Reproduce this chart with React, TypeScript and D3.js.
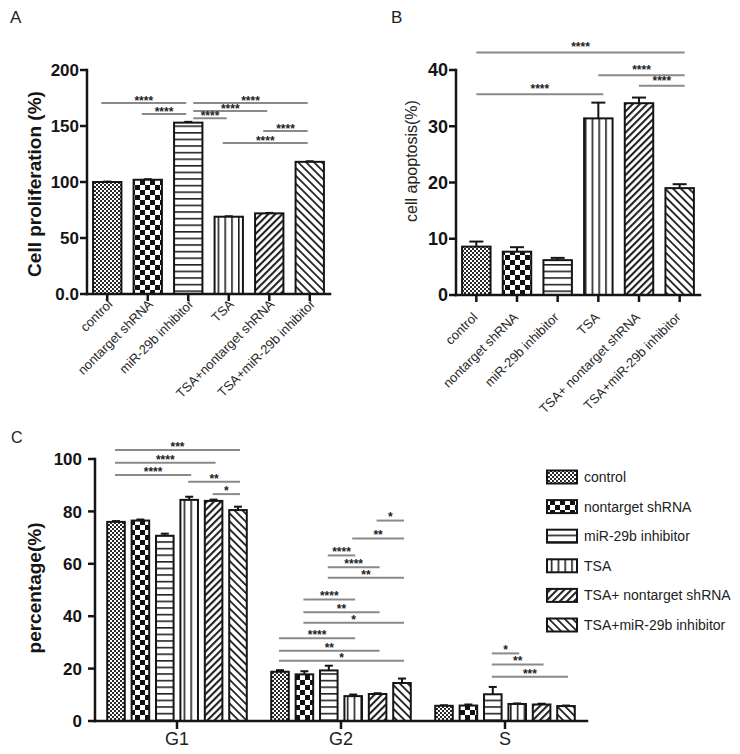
import React from "react";
import * as d3 from "d3";

// ---------------- data ----------------
const groups = ["control", "nontarget shRNA", "miR-29b inhibitor", "TSA", "TSA+nontarget shRNA", "TSA+miR-29b inhibitor"];
const labelsA = ["control", "nontarget shRNA", "miR-29b inhibitor", "TSA", "TSA+nontarget shRNA", "TSA+miR-29b inhibitor"];
const labelsB = ["control", "nontarget shRNA", "miR-29b inhibitor", "TSA", "TSA+ nontarget shRNA", "TSA+miR-29b inhibitor"];
const legendLabels = ["control", "nontarget shRNA", "miR-29b inhibitor", "TSA", "TSA+ nontarget shRNA", "TSA+miR-29b inhibitor"];

const proliferation = [100, 102, 153, 69, 72, 118];
const proliferationErr = [0.4, 0.5, 0.7, 0.4, 0.4, 0.5];
const apoptosis = [8.6, 7.7, 6.2, 31.4, 34.1, 19.0];
const apoptosisErr = [0.9, 0.8, 0.4, 2.8, 1.0, 0.7];

const phases = ["G1", "G2", "S"];
const cycleG1 = [76.0, 76.5, 70.7, 84.4, 84.0, 80.5];
const cycleG1Err = [0.3, 0.4, 0.8, 1.2, 0.5, 1.3];
const cycleG2 = [18.8, 17.8, 19.3, 9.5, 10.3, 14.5];
const cycleG2Err = [0.6, 1.2, 1.8, 0.6, 0.3, 1.7];
const cycleS = [5.8, 5.9, 10.2, 6.5, 6.3, 5.7];
const cycleSErr = [0.2, 0.4, 2.8, 0.2, 0.3, 0.2];

const ticksA = [0, 50, 100, 150, 200];
const tickLabelsA = ["0.0", "50", "100", "150", "200"];
const ticksB = [0, 10, 20, 30, 40];
const tickLabelsB = ["0", "10", "20", "30", "40"];
const ticksC = [0, 20, 40, 60, 80, 100];
const tickLabelsC = ["0", "20", "40", "60", "80", "100"];

// comparisons: [fromIndex, toIndex, yValue, stars]
const sigA: [number, number, number, string][] = [
  [0, 2, 170.5, "****"],
  [1, 2, 160.7, "****"],
  [2, 5, 170.5, "****"],
  [2, 4, 163.4, "****"],
  [2, 3, 157, "****"],
  [4, 5, 145.5, "****"],
  [3, 5, 134.8, "****"],
];
const sigB: [number, number, number, string][] = [
  [0, 5, 43.1, "****"],
  [0, 3, 35.7, "****"],
  [3, 5, 39.05, "****"],
  [4, 5, 37.2, "****"],
];
const sigG1: [number, number, number, string][] = [
  [0, 5, 103.4, "***"],
  [0, 4, 98.6, "****"],
  [0, 3, 93.9, "****"],
  [3, 5, 91.3, "**"],
  [4, 5, 86.6, "*"],
];
const sigG2: [number, number, number, string][] = [
  [4, 5, 76.5, "*"],
  [3, 5, 69.7, "**"],
  [2, 3, 63.2, "****"],
  [2, 4, 58.7, "****"],
  [2, 5, 54.7, "**"],
  [1, 3, 46.4, "****"],
  [1, 4, 41.5, "**"],
  [1, 5, 37.5, "*"],
  [0, 3, 31.6, "****"],
  [0, 4, 26.8, "**"],
  [0, 5, 23.0, "*"],
];
const sigS: [number, number, number, string][] = [
  [2, 3, 25.8, "*"],
  [2, 4, 21.6, "**"],
  [2, 5, 16.9, "***"],
];

// ---------------- helpers ----------------
const FONT = "'Liberation Sans', Arial, Helvetica, sans-serif";
const INK = "#151515";

function Patterns() {
  return (
    <defs>
      <pattern id="pat0" patternUnits="userSpaceOnUse" width={4} height={4}>
        <rect width={4} height={4} fill="#fff" />
        <rect width={2} height={2} fill="#2a2a2a" />
        <rect x={2} y={2} width={2} height={2} fill="#2a2a2a" />
      </pattern>
      <pattern id="pat1" patternUnits="userSpaceOnUse" width={10} height={10}>
        <rect width={10} height={10} fill="#fff" />
        <rect width={5} height={5} fill="#111" />
        <rect x={5} y={5} width={5} height={5} fill="#111" />
      </pattern>
      <pattern id="pat2" patternUnits="userSpaceOnUse" width={6} height={6.6}>
        <rect width={6} height={6.6} fill="#fff" />
        <rect y={0} width={6} height={1.6} fill="#222" />
      </pattern>
      <pattern id="pat3" patternUnits="userSpaceOnUse" width={6.8} height={6}>
        <rect width={6.8} height={6} fill="#fff" />
        <rect x={0} width={1.6} height={6} fill="#222" />
      </pattern>
      <pattern id="pat4" patternUnits="userSpaceOnUse" width={5} height={5} patternTransform="rotate(45)">
        <rect width={5} height={5} fill="#fff" />
        <rect x={0} width={2.1} height={5} fill="#222" />
      </pattern>
      <pattern id="pat5" patternUnits="userSpaceOnUse" width={5.6} height={5.6} patternTransform="rotate(-45)">
        <rect width={5.6} height={5.6} fill="#fff" />
        <rect x={0} width={1.8} height={5.6} fill="#222" />
      </pattern>
    </defs>
  );
}

function YAxis({ x, y, ticks, labels, fs, gap }: any) {
  return (
    <g>
      <line x1={x} x2={x} y1={y(ticks[0])} y2={y(ticks[ticks.length - 1])} stroke={INK} strokeWidth={2.5} strokeLinecap="square" />
      {ticks.map((t: number, i: number) => (
        <g key={i}>
          <line x1={x - 7} x2={x} y1={y(t)} y2={y(t)} stroke={INK} strokeWidth={2.5} />
          <text x={x - gap} y={y(t)} dy="0.36em" textAnchor="end" fontSize={fs} fontWeight="bold" fill={INK}>
            {labels[i]}
          </text>
        </g>
      ))}
    </g>
  );
}

function Bars({ values, errs, cx, bw, y, cap }: any) {
  return (
    <g>
      {values.map((v: number, i: number) => {
        const top = y(v);
        const base = y(0);
        const et = y(v + errs[i]);
        const c = cx(i);
        return (
          <g key={i}>
            <line x1={c} x2={c} y1={top} y2={et} stroke={INK} strokeWidth={2} />
            <line x1={c - cap / 2} x2={c + cap / 2} y1={et} y2={et} stroke={INK} strokeWidth={2} />
            <rect x={c - bw / 2} y={top} width={bw} height={base - top} fill={`url(#pat${i})`} stroke={INK} strokeWidth={2} />
          </g>
        );
      })}
    </g>
  );
}

function SigLines({ sigs, cx, y, pad1, pad2, starOff }: any) {
  return (
    <g>
      {sigs.map((s: [number, number, number, string], k: number) => {
        const [a, b, v, stars] = s;
        const py = y(v);
        const shared = sigs.some((o: any, j: number) => j !== k && o[1] === a && Math.abs(y(o[2]) - py) <= 4.5);
        const x1 = shared ? cx(a) + 5 : cx(a) - pad1;
        const x2 = cx(b) + pad2;
        return (
          <g key={k}>
            <line x1={x1} x2={x2} y1={py} y2={py} stroke="#8a8a8a" strokeWidth={2} />
            <text x={(x1 + x2) / 2} y={py - starOff + 6.9} fontSize={12} fontWeight="bold" textAnchor="middle" fill="#1e1e1e">
              {stars}
            </text>
          </g>
        );
      })}
    </g>
  );
}

function CategoryPanel({ values, errs, labels, ticks, tickLabels, yMax, xRange, yRange, sigs, pad1, pad2, starOff, cap, tickFs, labelDx, labelY }: any) {
  const x = d3.scalePoint<string>().domain(groups).range(xRange).padding(0.5);
  const y = d3.scaleLinear().domain([0, yMax]).range(yRange);
  const cx = (i: number) => x(groups[i]) as number;
  const bw = x.step() * 0.7;
  return (
    <g>
      <SigLines sigs={sigs} cx={cx} y={y} pad1={pad1} pad2={pad2} starOff={starOff} />
      <Bars values={values} errs={errs} cx={cx} bw={bw} y={y} cap={cap} />
      <YAxis x={xRange[0]} y={y} ticks={ticks} labels={tickLabels} fs={tickFs} gap={8} />
      <line x1={xRange[0]} x2={xRange[1]} y1={y(0)} y2={y(0)} stroke={INK} strokeWidth={2.5} strokeLinecap="square" />
      {groups.map((g, i) => (
        <g key={g}>
          <line x1={cx(i)} x2={cx(i)} y1={y(0)} y2={y(0) + 7} stroke={INK} strokeWidth={2.5} />
          <text
            transform={`translate(${cx(i) + labelDx},${labelY}) rotate(-45)`}
            textAnchor="end"
            fontSize={13}
            fill="#2a2a2a"
          >
            {labels[i]}
          </text>
        </g>
      ))}
    </g>
  );
}

function CyclePanel() {
  const x0 = d3.scaleBand<string>().domain(phases).range([95, 587]);
  const x1 = d3.scaleBand<string>().domain(groups).range([-73.2, 73.2]).paddingInner(0.28).paddingOuter(0.14);
  const y = d3.scaleLinear().domain([0, 100]).range([721, 459]);
  const data = [
    [cycleG1, cycleG1Err, sigG1],
    [cycleG2, cycleG2Err, sigG2],
    [cycleS, cycleSErr, sigS],
  ] as any[];
  const center = (p: string) => (x0(p) as number) + x0.bandwidth() / 2;
  return (
    <g>
      {phases.map((p, pi) => {
        const cx = (i: number) => center(p) + (x1(groups[i]) as number) + x1.bandwidth() / 2;
        return (
          <g key={p}>
            <SigLines sigs={data[pi][2]} cx={cx} y={y} pad1={1} pad2={2} starOff={6} />
            <Bars values={data[pi][0]} errs={data[pi][1]} cx={cx} bw={x1.bandwidth()} y={y} cap={8} />
          </g>
        );
      })}
      <YAxis x={95} y={y} ticks={ticksC} labels={tickLabelsC} fs={17} gap={13} />
      <line x1={95} x2={587} y1={y(0)} y2={y(0)} stroke={INK} strokeWidth={2.5} strokeLinecap="square" />
      {phases.map((p) => (
        <g key={p}>
          <line x1={center(p)} x2={center(p)} y1={y(0)} y2={y(0) + 8} stroke={INK} strokeWidth={2.5} />
          <text x={center(p)} y={745} textAnchor="middle" fontSize={18} fill="#222">
            {p}
          </text>
        </g>
      ))}
      <text transform="translate(41,588) rotate(-90)" textAnchor="middle" fontSize={19} fontWeight="bold" fill={INK}>
        percentage(%)
      </text>
      {legendLabels.map((l, i) => {
        const ly = 477 + i * 29.6;
        return (
          <g key={l}>
            <rect x={547} y={ly - 6.5} width={30} height={13} fill={`url(#pat${i})`} stroke={INK} strokeWidth={2} />
            <text x={584} y={ly} dy="0.35em" fontSize={14} fill="#222">
              {l}
            </text>
          </g>
        );
      })}
    </g>
  );
}

export default function App() {
  return (
    <svg
      width={740}
      height={754}
      viewBox="0 0 740 754"
      style={{ position: "absolute", left: 0, top: 0, background: "#fff", fontFamily: FONT }}
    >
      <Patterns />
      <rect width={740} height={754} fill="#fff" />
      <text x={10} y={23} fontSize={17} fill="#222">A</text>
      <text x={391} y={23} fontSize={17} fill="#222">B</text>
      <text x={11} y={443} fontSize={16} fill="#222">C</text>

      <CategoryPanel
        values={proliferation}
        errs={proliferationErr}
        labels={labelsA}
        ticks={ticksA}
        tickLabels={tickLabelsA}
        yMax={200}
        xRange={[87, 330]}
        yRange={[294, 70]}
        sigs={sigA}
        pad1={6}
        pad2={-2}
        starOff={5}
        cap={8}
        tickFs={17}
        labelDx={6}
        labelY={305}
      />
      <text transform="translate(41,184) rotate(-90)" textAnchor="middle" fontSize={19} fontWeight="bold" fill={INK}>
        Cell proliferation (%)
      </text>

      <CategoryPanel
        values={apoptosis}
        errs={apoptosisErr}
        labels={labelsB}
        ticks={ticksB}
        tickLabels={tickLabelsB}
        yMax={40}
        xRange={[456, 700]}
        yRange={[295, 70]}
        sigs={sigB}
        pad1={0}
        pad2={5}
        starOff={8}
        cap={14}
        tickFs={18}
        labelDx={2}
        labelY={318}
      />
      <text transform="translate(417,161) rotate(-90)" textAnchor="middle" fontSize={16} fill="#222">
        cell apoptosis(%)
      </text>

      <CyclePanel />
    </svg>
  );
}
